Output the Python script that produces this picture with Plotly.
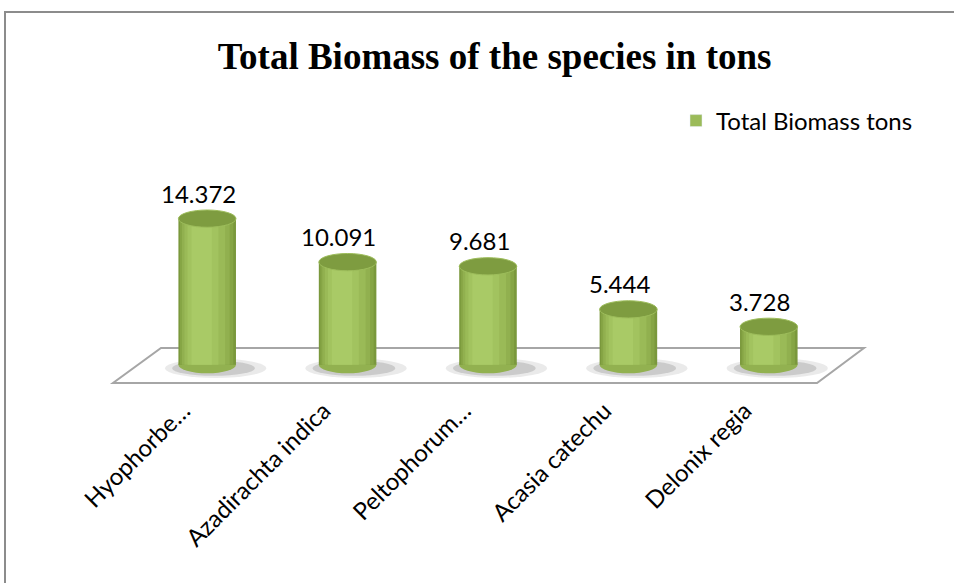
import plotly.graph_objects as go

categories = ["Hyophorbe…", "Azadirachta indica", "Peltophorum…", "Acasia catechu", "Delonix regia"]
values = [14.372, 10.091, 9.681, 5.444, 3.728]
value_labels = ["14.372", "10.091", "9.681", "5.444", "3.728"]
series_name = "Total Biomass tons"
title_text = "Total Biomass of the species in tons"

W, H = 954, 583
ML, MR, MT, MB = 137, 115, 197, 198
PW, PH = W - ML - MR, H - MT - MB

def px(xp):
    return (xp - ML) / PW

def py(yp):
    return (H - MB - yp) / PH

fig = go.Figure()

# cylinder body shading layers (offset, width, color)
layers = [
    (-0.205, 0.41, "#7A983C"),
    (-0.194, 0.38, "#86A545"),
    (-0.180, 0.34, "#91B04F"),
    (-0.162, 0.29, "#9ABA57"),
    (-0.140, 0.22, "#A2C35F"),
    (-0.112, 0.145, "#A9CA66"),
]
for k, (off, wd, col) in enumerate(layers):
    fig.add_trace(go.Bar(
        x=categories, y=values, offset=off, width=wd,
        marker=dict(color=col, line=dict(width=0)),
        name=series_name, showlegend=False, hoverinfo="skip",
    ))

# legend entry
fig.add_trace(go.Bar(
    x=categories, y=[None] * len(values), name=series_name,
    marker=dict(color="#9BBB59"), showlegend=True,
))

shapes = []
# chart border
shapes.append(dict(type="rect", xref="paper", yref="paper",
                   x0=px(5), x1=px(990), y0=py(12), y1=py(620),
                   line=dict(color="#8C8C8C", width=2), fillcolor="rgba(0,0,0,0)", layer="below"))
# floor
shapes.append(dict(type="path", xref="paper", yref="paper",
                   path=f"M {px(113)} {py(383)} L {px(817)} {py(383)} L {px(864)} {py(348)} L {px(161)} {py(348)} Z",
                   line=dict(color="#A6A6A6", width=2), fillcolor="white", layer="below"))

eh = 0.85
for i, v in enumerate(values):
    # soft shadow
    shapes.append(dict(type="circle", xref="x", yref="y",
                       x0=i - 0.30, x1=i + 0.42, y0=-1.3, y1=0.6,
                       fillcolor="rgba(140,140,140,0.18)", line=dict(width=0), layer="below"))
    shapes.append(dict(type="circle", xref="x", yref="y",
                       x0=i - 0.25, x1=i + 0.34, y0=-1.1, y1=0.4,
                       fillcolor="rgba(110,110,110,0.25)", line=dict(width=0), layer="below"))
    # bottom ellipse
    shapes.append(dict(type="circle", xref="x", yref="y",
                       x0=i - 0.205, x1=i + 0.205, y0=-eh, y1=eh,
                       fillcolor="#92B150", line=dict(width=0), layer="below"))
    # top ellipse
    shapes.append(dict(type="circle", xref="x", yref="y",
                       x0=i - 0.205, x1=i + 0.205, y0=v - eh, y1=v + eh,
                       fillcolor="#7E9C40", line=dict(color="#9DBD5B", width=1), layer="above"))

annotations = []
for i, (v, t) in enumerate(zip(values, value_labels)):
    annotations.append(dict(x=i, y=v, xref="x", yref="y", text=t, showarrow=False,
                            yanchor="bottom", yshift=9, xshift=-9,
                            font=dict(family="Lato, sans-serif", size=24, color="#000000")))

fig.update_layout(
    width=W, height=H,
    margin=dict(l=ML, r=MR, t=MT, b=MB),
    paper_bgcolor="white", plot_bgcolor="rgba(0,0,0,0)",
    barmode="overlay",
    title=dict(text=f"<b>{title_text}</b>", x=px(501), xanchor="center",
               y=1 - 56 / H, yanchor="middle",
               font=dict(family="Liberation Serif, Times New Roman, serif", size=37, color="#000000")),
    legend=dict(x=px(676), y=py(121), xanchor="left", yanchor="middle",
                font=dict(family="Lato, sans-serif", size=24, color="#000000"),
                itemwidth=30, bgcolor="rgba(0,0,0,0)", traceorder="normal"),
    shapes=shapes,
    annotations=annotations,
    xaxis=dict(type="category", range=[-0.5, 4.5], showgrid=False, zeroline=False, showline=False,
               tickangle=-45, ticks="", ticklabelshift=-24, ticklabelstandoff=6,
               tickfont=dict(family="Lato, sans-serif", size=24, color="#000000"),
               fixedrange=True),
    yaxis=dict(range=[-2.0, 16.5], visible=False, showgrid=False, zeroline=False, fixedrange=True),
    showlegend=True,
)

fig.write_html("out.html", config={"displayModeBar": False},
               post_script="document.body.style.margin='0';document.body.style.overflow='hidden';")
